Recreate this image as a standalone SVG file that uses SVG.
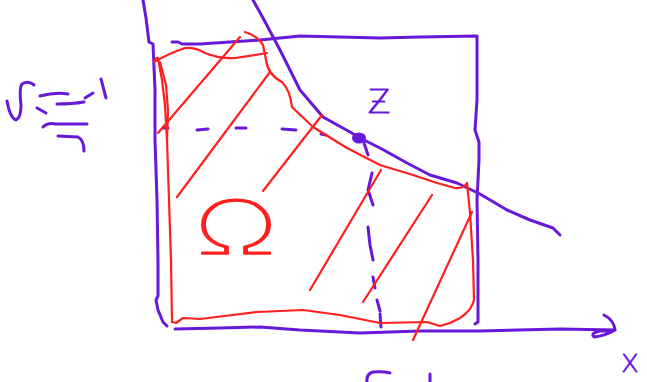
<svg xmlns="http://www.w3.org/2000/svg" width="647" height="382" viewBox="0 0 647 382">
<style>
.p{fill:none;stroke:#6818d8;stroke-width:3;stroke-linecap:round;stroke-linejoin:round}
.r{fill:none;stroke:#ff1f1f;stroke-width:2.2;stroke-linecap:round;stroke-linejoin:round}
.t{font-family:Inter,Roboto,"DejaVu Sans",sans-serif;font-weight:100;text-anchor:middle;stroke-linejoin:round}
</style>
<rect width="647" height="382" fill="#ffffff"/>
<g id="axes">
<path class="p" d="M143,0 L146,18 L149,42 L153,44 L155,90 L155,140 L157,200 L158,260 L158,296 L156,300 L158,310 L163,322 L167,326"/>
<path class="p" d="M175,329 L220,328 L260,327 L300,330 L360,333 L420,331 L480,331 L560,329 L615,330"/>
<path class="p" d="M604,315 Q614,320 615,330 Q605,336 594,337 Q590,333 600,331 L612,331"/>
</g>
<g id="square">
<path class="p" d="M172,42 L178,42 L182,44 L200,44 L230,42 L260,40 L300,36 L340,37 L380,38 L420,37 L477,36 L477,50 L477,100 L475,130 L479,142 L479,160 L477,200 L478,260 L478,300 L478,322 L475,324"/>
</g>
<g id="curve">
<path class="p" d="M253,0 L263,18 L280,50 L300,90 L323,117 L350,132 L360,138 L380,148 L407,163 L430,175 L457,183 L480,194 L507,210 L530,220 L553,228 L560,235"/>
<ellipse cx="359" cy="138" rx="7" ry="5.5" fill="#6818d8"/>
<path class="p" d="M364,143 L368,155"/>
</g>
<g id="dashes">
<path class="p" stroke-width="2" d="M163,128 L168,128 M197,130 L208,129 M236,128 L246,128 M282,129 L296,130 M321,134 L326,135"/>
<path class="p" stroke-width="2" d="M372,173 L368,190 L373,205 M368,227 L370,245 L373,260 M373,277 L375,288 M377,300 L380,311 M380,314 L381,327"/>
</g>
<g id="formula">
<path class="p" d="M7,101 Q10,118 16,120 Q21,118 21,105 Q19,88 22,84 Q28,80 34,85"/>
<path class="p" stroke-width="2" d="M40,96 Q55,92 68,94 M57,104 Q72,104 84,102 M85,98 L93,93 M37,108 L46,113 M43,127 Q48,122 56,124 L87,124 M58,136 L78,137 Q84,140 84,151"/>
<path class="p" d="M101,79 L106,98"/>
<path class="p" d="M367,382 Q366,374 373,372 Q382,371 390,373 M430,374 L430,382"/>
</g>
<g id="omega-region">
<path class="r" stroke-width="3" d="M154,62 Q156,57 158,58 L162,80 L165,105 L167,140 L169,200 L171,260 L172,322"/>
<path class="r" d="M160,62 L166,85 L168,110 L167,140"/>
<path class="r" d="M154,62 Q170,53 185,48 Q195,47 205,53 Q220,59 235,58 Q255,55 267,53"/>
<path class="r" d="M245,32 Q258,36 263,45 L266,60 Q268,75 282,82 Q290,90 292,107 L313,127 L347,148 L380,165 L413,175 L437,183 L455,188 Q463,189 467,183 L470,213 L473,260 L474,300 Q472,310 460,318 L450,323 L440,326 L427,322 L380,323 L340,315 L303,310 L257,312 L200,319 L183,318 L176,323 L172,322"/>
<path class="r" d="M240,37 L158,133 M270,72 L177,197 M322,115 L263,191 M381,170 L310,290 M432,195 L363,302 M472,212 L413,340"/>
</g>
<g id="labels">
<text class="t" font-size="74" fill="#ff1f1f" stroke="#ff1f1f" stroke-width="1.6" transform="translate(236,254) scale(1.5,1)">Ω</text>
<text class="t" font-size="44" fill="#6818d8" stroke="#6818d8" stroke-width="1.2" transform="translate(379,113) scale(1.2,1)">ƶ</text>
<text class="t" font-size="32" fill="#6818d8" stroke="#6818d8" stroke-width="1.2" x="630" y="372">x</text>
</g>
</svg>
